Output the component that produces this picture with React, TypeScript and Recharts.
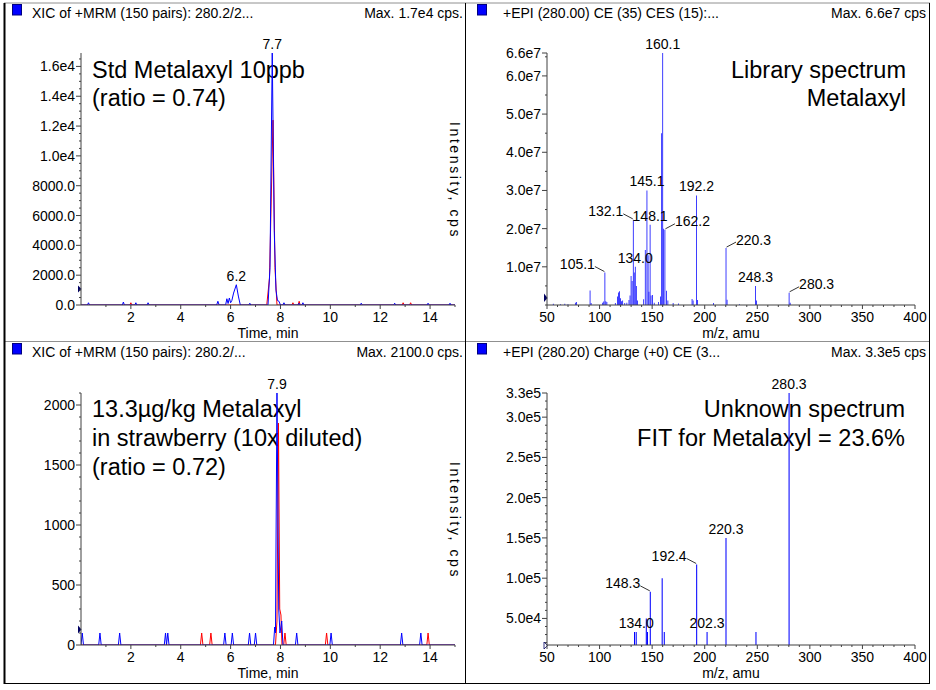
import React from 'react'
import { LineChart, Line, BarChart, Bar, XAxis, YAxis, ReferenceDot, LabelList } from 'recharts'

const FONT = '"Liberation Sans", Arial, Helvetica, sans-serif'
const BLUE = '#0000ff'
const RED = '#ff0000'
const AXIS = '#404040'

// ---- top left: Std Metalaxyl 10 ppb, XIC traces [time (min), cps]
const stdQuant: [number, number][] = [
  [0, 0], [0.26, 0], [0.3, 150], [0.34, 0], [1.66, 0], [1.7, 200], [1.74, 0],
  [2.16, 0], [2.2, 150], [2.24, 0], [2.65, 0], [2.69, 150], [2.73, 0],
  [5.44, 0], [5.49, 250], [5.54, 0], [5.8, 0], [5.85, 420], [5.9, 100], [5.95, 470],
  [6.0, 150], [6.05, 300], [6.12, 800], [6.23, 1360], [6.31, 600], [6.39, 0],
  [6.73, 0], [6.77, 120], [6.81, 0], [7.5, 0], [7.58, 2500], [7.67, 16900],
  [7.75, 5000], [7.82, 1000], [7.88, 300], [7.94, 250], [8.0, 0],
  [8.1, 0], [8.14, 150], [8.18, 0], [8.7, 0], [8.74, 120], [8.78, 0],
  [8.86, 0], [8.9, 150], [8.94, 0], [11.2, 0], [11.24, 120], [11.28, 0],
  [12.54, 0], [12.58, 120], [12.62, 0], [13.88, 0], [13.92, 120], [13.96, 0],
  [14.76, 0], [14.8, 120], [14.84, 0], [15, 0],
]
const stdQual: [number, number][] = [
  [0, 0], [1.96, 0], [2.0, 150], [2.04, 0], [7.45, 0], [7.56, 1800], [7.7, 12400],
  [7.78, 2500], [7.86, 0], [8.46, 0], [8.5, 150], [8.54, 0], [8.71, 0], [8.75, 250],
  [8.79, 0], [12.88, 0], [12.92, 150], [12.96, 0], [13.18, 0], [13.22, 150],
  [13.26, 0], [15, 0],
]
const stdApex: [number, number, string][] = [[6.23, 1360, '6.2'], [7.67, 16900, '7.7']]
const stdYMajor = [0, 2000, 4000, 6000, 8000, 10000, 12000, 14000, 16000]
const stdYLabels = ['0.0', '2000.0', '4000.0', '6000.0', '8000.0', '1.0e4', '1.2e4', '1.4e4', '1.6e4']

// ---- bottom left: strawberry extract, XIC traces
const sampleQuant: [number, number][] = [
  [0, 0], [0.05, 100], [0.1, 0], [0.71, 0], [0.76, 100], [0.81, 0],
  [1.5, 0], [1.55, 100], [1.6, 0], [3.34, 0], [3.39, 100], [3.43, 0], [3.48, 100], [3.53, 0],
  [5.72, 0], [5.77, 100], [5.82, 0], [6.02, 0], [6.07, 100], [6.12, 0],
  [6.71, 0], [6.76, 100], [6.81, 0], [6.95, 0], [7.0, 100], [7.05, 0],
  [7.72, 0], [7.77, 150], [7.8, 100], [7.86, 2100], [7.93, 300], [7.98, 100],
  [8.05, 200], [8.1, 0], [8.6, 0], [8.65, 100], [8.7, 0], [9.98, 0], [10.03, 100], [10.08, 0],
  [12.81, 0], [12.86, 100], [12.91, 0], [13.58, 0], [13.63, 100], [13.68, 0], [15, 0],
]
const sampleQual: [number, number][] = [
  [0, 0], [4.79, 0], [4.84, 100], [4.89, 0], [5.16, 0], [5.21, 100], [5.26, 0],
  [7.8, 0], [7.86, 200], [7.92, 1850], [7.97, 300], [8.02, 250], [8.06, 0],
  [8.13, 0], [8.18, 100], [8.23, 0], [9.8, 0], [9.85, 100], [9.9, 0],
  [13.87, 0], [13.92, 100], [13.97, 0], [15, 0],
]
const sampleApex: [number, number, string][] = [[7.86, 2100, '7.9']]
const sampleYMajor = [0, 500, 1000, 1500, 2000]
const sampleYLabels = ['0', '500', '1000', '1500', '2000']

const timeMajor = [2, 4, 6, 8, 10, 12, 14]

// ---- top right: library spectrum (m/z, cps, label)
const libMz = [56, 63, 67, 70, 77, 78, 91, 92, 103, 104, 105.1, 106, 107, 115, 117, 118, 119, 120,
  121, 122, 124, 126, 128, 129, 130, 131, 132.1, 133, 134.0, 135, 136, 142, 143.5, 145.1,
  146.2, 147, 148.1, 149, 150.5, 152, 156, 158, 159.1, 160.1, 161, 162.2, 163.8, 165, 170,
  175, 188, 189, 192.2, 193.3, 208.5, 220.3, 221.3, 233, 248.3, 249.3, 280.3, 281.3]
const libInt = [3e5, 2e5, 3e5, 2e5, 6e5, 8e5, 3.8e6, 5e5, 6e5, 9e5, 8.5e6, 1.0e6, 8e5, 5e5,
  2.2e6, 3.3e6, 3.6e6, 1.8e6, 1.0e6, 1.2e6, 5e5, 6e5, 1.3e6, 2.5e6, 7.6e6, 6.3e6, 2.23e7,
  8.5e6, 1.0e7, 5e6, 1.2e6, 1.5e6, 1.44e7, 3.0e7, 1.3e7, 3.5e6, 2.1e7, 2.5e6, 2.6e6, 6e5,
  8e5, 2.2e6, 4.5e7, 6.6e7, 2.0e7, 1.97e7, 3.7e6, 1.2e6, 5e5, 4e5, 1.6e6, 1.2e6, 2.87e7,
  1.3e6, 5e5, 1.49e7, 1.4e6, 2e5, 5.0e6, 1.2e6, 3.2e6, 6e5]
const libLabel = ['', '', '', '', '', '', '', '', '', '', '105.1', '', '', '', '', '', '', '',
  '', '', '', '', '', '', '', '', '132.1', '', '134.0', '', '', '', '', '145.1',
  '', '', '148.1', '', '', '', '', '', '', '160.1', '', '162.2', '', '', '',
  '', '', '', '192.2', '', '', '220.3', '', '', '248.3', '', '280.3', '']
const libYMajor = [1e7, 2e7, 3e7, 4e7, 5e7, 6e7, 6.6e7]
const libYLabels = ['1.0e7', '2.0e7', '3.0e7', '4.0e7', '5.0e7', '6.0e7', '6.6e7']

// ---- bottom right: unknown spectrum
const unkMz = [133.3, 134.9, 144.5, 145.6, 148.3, 159.6, 161.6, 192.4, 202.3, 220.3, 248.8, 280.3]
const unkInt = [3.3e4, 3.3e4, 5.0e4, 3.3e4, 8.3e4, 1.0e5, 3.3e4, 1.17e5, 3.3e4, 1.5e5, 3.3e4, 3.3e5]
const unkLabel = ['', '134.0', '', '', '148.3', '', '', '192.4', '202.3', '220.3', '', '280.3']
const unkYMajor = [5e4, 1e5, 1.5e5, 2e5, 2.5e5, 3e5, 3.3e5]
const unkYLabels = ['5.0e4', '1.0e5', '1.5e5', '2.0e5', '2.5e5', '3.0e5', '3.3e5']

const mzMajor = [50, 100, 150, 200, 250, 300, 350, 400]

function steps(a: number, b: number, s: number) {
  const out: number[] = []
  for (let k = 0; a + k * s <= b; k++) out.push(a + k * s)
  return out
}
const merge = (a: number[], b: number[]) => Array.from(new Set([...a, ...b])).sort((p, q) => p - q)

const txt = { fontSize: 14, fontFamily: FONT, fill: '#000' }

const yTick = (major: number[], labels: string[]) => (p: any) => {
  const i = major.indexOf(p.payload.value)
  return (
    <g>
      <line x1={p.x - (i >= 0 ? 5 : 2)} x2={p.x} y1={p.y} y2={p.y} stroke={AXIS} />
      {i >= 0 && <text x={p.x - 6} y={p.y + 5} textAnchor="end" {...txt}>{labels[i]}</text>}
    </g>
  )
}

const xTick = (major: number[]) => (p: any) => {
  const v = p.payload.value
  const isMajor = major.includes(v)
  return (
    <g>
      <line x1={p.x} x2={p.x} y1={p.y} y2={p.y + (isMajor ? 4 : 2)} stroke={AXIS} />
      {isMajor && <text x={p.x} y={p.y + 17} textAnchor="middle" {...txt}>{v}</text>}
    </g>
  )
}

const specLabel = (sides: Record<string, string>) => (p: any) => {
  const { value } = p
  if (!value) return null
  const cx = Number(p.x) + Number(p.width) / 2
  const top = Number(p.y)
  const side = sides[value]
  if (side === 'left') {
    return (
      <g>
        <line x1={cx - 10} y1={top - 6} x2={cx - 0.5} y2={top - 1} stroke="#000" strokeWidth={0.8} />
        <text x={cx - 10} y={top - 3.5} textAnchor="end" {...txt}>{value}</text>
      </g>
    )
  }
  if (side === 'right') {
    return (
      <g>
        <line x1={cx + 0.5} y1={top - 1} x2={cx + 10} y2={top - 6} stroke="#000" strokeWidth={0.8} />
        <text x={cx + 10} y={top - 3.5} textAnchor="start" {...txt}>{value}</text>
      </g>
    )
  }
  return <text x={cx} y={top - 4} textAnchor="middle" {...txt}>{value}</text>
}

function Chrom(props: {
  left: number; top: number; width: number; height: number; marginTop: number; xH: number
  quant: [number, number][]; qual: [number, number][]; apex: [number, number, string][]
  yMax: number; yMajor: number[]; yLabels: string[]; yStep: number; titleOffset: number
}) {
  const quant = props.quant.map(([t, v]) => ({ t, v }))
  const qual = props.qual.map(([t, v]) => ({ t, v }))
  const yTicks = merge(props.yMajor, steps(0, props.yMax, props.yStep))
  const xTicks = merge(timeMajor, steps(1, 15, 2))
  return (
    <div style={{ position: 'absolute', left: props.left, top: props.top }}>
      <LineChart width={props.width} height={props.height}
        margin={{ top: props.marginTop, right: 10, bottom: 0, left: 0 }}>
        <XAxis type="number" dataKey="t" domain={[0, 15]} allowDataOverflow ticks={xTicks} interval={0}
          tickLine={false} tickSize={0} tickMargin={0} height={props.xH} axisLine={{ stroke: AXIS }}
          tick={xTick(timeMajor)}
          label={{ value: 'Time, min', position: 'insideBottom', offset: props.titleOffset, ...txt }} />
        <YAxis type="number" domain={[0, props.yMax]} allowDataOverflow ticks={yTicks} interval={0}
          tickLine={false} tickSize={0} tickMargin={0} width={76} axisLine={{ stroke: AXIS }}
          tick={yTick(props.yMajor, props.yLabels)} />
        <Line data={qual} dataKey="v" type="linear" stroke={RED} strokeWidth={1} dot={false} isAnimationActive={false} />
        <Line data={quant} dataKey="v" type="linear" stroke={BLUE} strokeWidth={1} dot={false} isAnimationActive={false} />
        {props.apex.map(([t, v, s]) => (
          <ReferenceDot key={s} x={t} y={v} r={0} stroke="none" fill="none" ifOverflow="visible"
            label={{ value: s, position: 'top', offset: 4, ...txt }} />
        ))}
      </LineChart>
    </div>
  )
}

function Spectrum(props: {
  left: number; top: number; width: number; height: number; marginTop: number; xH: number
  mz: number[]; ints: number[]; labels: string[]; yMin: number; yMax: number
  yMajor: number[]; yLabels: string[]; yStep: number; yStart: number
  sides: Record<string, string>; titleOffset: number
}) {
  const data = props.mz.map((m, i) => ({ mz: m, i: props.ints[i], label: props.labels[i] }))
  const yTicks = merge(props.yMajor, steps(props.yStart, props.yMax, props.yStep))
  const xTicks = merge(mzMajor, steps(60, 390, 10))
  return (
    <div style={{ position: 'absolute', left: props.left, top: props.top }}>
      <BarChart width={props.width} height={props.height} data={data} barSize={1.7} barGap={0}
        margin={{ top: props.marginTop, right: 14, bottom: 0, left: 0 }}>
        <XAxis type="number" dataKey="mz" domain={[50, 400]} allowDataOverflow ticks={xTicks} interval={0}
          tickLine={false} tickSize={0} tickMargin={0} height={props.xH} axisLine={{ stroke: AXIS }}
          tick={xTick(mzMajor)}
          label={{ value: 'm/z, amu', position: 'insideBottom', offset: props.titleOffset, ...txt }} />
        <YAxis type="number" domain={[props.yMin, props.yMax]} allowDataOverflow ticks={yTicks} interval={0}
          tickLine={false} tickSize={0} tickMargin={0} width={81} axisLine={{ stroke: AXIS }}
          tick={yTick(props.yMajor, props.yLabels)} />
        <Bar dataKey="i" fill={BLUE} isAnimationActive={false}>
          <LabelList dataKey="label" content={specLabel(props.sides)} />
        </Bar>
      </BarChart>
    </div>
  )
}

const title = { fontSize: 23.5, fontFamily: FONT, fill: '#000' }

function Overlay() {
  const side = { fontSize: 14, fontFamily: FONT, fill: '#000', letterSpacing: 2.6 }
  return (
    <svg width={936} height={690} style={{ position: 'absolute', left: 0, top: 0 }}>
      <line x1={4} x2={930} y1={3} y2={3} stroke="#909090" />
      <line x1={4} x2={930} y1={341.5} y2={341.5} stroke="#909090" />
      <line x1={4.5} x2={4.5} y1={3} y2={684} stroke="#000" strokeWidth={2} />
      <line x1={465.5} x2={465.5} y1={3} y2={684} stroke="#000" />
      <line x1={929.5} x2={929.5} y1={3} y2={684} stroke="#000" />
      <line x1={4} x2={930} y1={683.5} y2={683.5} stroke="#000" />

      {[[12, 4], [477, 4], [12, 343], [477, 343]].map(([x, y]) => (
        <rect key={x + '-' + y} x={x + 0.5} y={y + 0.5} width={9} height={10.5} fill={BLUE} stroke="#000080" />
      ))}
      <text x={32} y={18} {...txt}>XIC of +MRM (150 pairs): 280.2/2...</text>
      <text x={463} y={18} textAnchor="end" {...txt}>Max. 1.7e4 cps.</text>
      <text x={503} y={18} {...txt}>+EPI (280.00) CE (35) CES (15):...</text>
      <text x={926} y={18} textAnchor="end" {...txt}>Max. 6.6e7 cps</text>
      <text x={32} y={357} {...txt}>XIC of +MRM (150 pairs): 280.2/...</text>
      <text x={463} y={357} textAnchor="end" {...txt}>Max. 2100.0 cps.</text>
      <text x={503} y={357} {...txt}>+EPI (280.20) Charge (+0) CE (3...</text>
      <text x={926} y={357} textAnchor="end" {...txt}>Max. 3.3e5 cps</text>

      <text x={92} y={78} {...title}>Std Metalaxyl 10ppb</text>
      <text x={92} y={106} {...title}>(ratio = 0.74)</text>
      <text x={906} y={78} textAnchor="end" {...title}>Library spectrum</text>
      <text x={906} y={106} textAnchor="end" {...title}>Metalaxyl</text>
      <text x={92} y={417} {...title}>13.3µg/kg Metalaxyl</text>
      <text x={92} y={446} {...title}>in strawberry (10x diluted)</text>
      <text x={92} y={475} {...title}>(ratio = 0.72)</text>
      <text x={905} y={417} textAnchor="end" {...title}>Unknown spectrum</text>
      <text x={905} y={446} textAnchor="end" {...title}>FIT for Metalaxyl = 23.6%</text>

      <text transform="translate(450,122) rotate(90)" {...side}>Intensity, cps</text>
      <text transform="translate(450,462) rotate(90)" {...side}>Intensity, cps</text>

      <polygon points="78,285.5 81.5,289 78,292.5" fill="#000060" />
      <polygon points="544,293.5 547.5,298 544,302" fill="#000060" />
      <polygon points="78,625.5 81.5,629.5 78,633.5" fill="#000060" />
      <polygon points="544,642 547.5,645.5 544,649" fill="#fff" stroke="#000060" strokeWidth={0.8} />
    </svg>
  )
}

export default function App() {
  return (
    <div style={{ position: 'absolute', left: 0, top: 0, width: 936, height: 690, background: '#fff' }}>
      <Overlay />
      <Chrom left={5} top={4} width={460} height={337} marginTop={49} xH={36}
        quant={stdQuant} qual={stdQual} apex={stdApex} yMax={16900}
        yMajor={stdYMajor} yLabels={stdYLabels} yStep={500} titleOffset={3} />
      <Chrom left={5} top={342} width={460} height={341} marginTop={51} xH={38}
        quant={sampleQuant} qual={sampleQual} apex={sampleApex} yMax={2100}
        yMajor={sampleYMajor} yLabels={sampleYLabels} yStep={100} titleOffset={5} />
      <Spectrum left={466} top={4} width={463} height={337} marginTop={49} xH={36}
        mz={libMz} ints={libInt} labels={libLabel} yMin={0} yMax={6.6e7}
        yMajor={libYMajor} yLabels={libYLabels} yStep={5e6} yStart={0}
        sides={{ '105.1': 'left', '132.1': 'left', '162.2': 'right', '220.3': 'right', '280.3': 'right' }}
        titleOffset={3} />
      <Spectrum left={466} top={342} width={463} height={341} marginTop={51} xH={38}
        mz={unkMz} ints={unkInt} labels={unkLabel} yMin={17000} yMax={3.3e5}
        yMajor={unkYMajor} yLabels={unkYLabels} yStep={1e4} yStart={20000}
        sides={{ '148.3': 'left', '192.4': 'left' }}
        titleOffset={5} />
    </div>
  )
}
